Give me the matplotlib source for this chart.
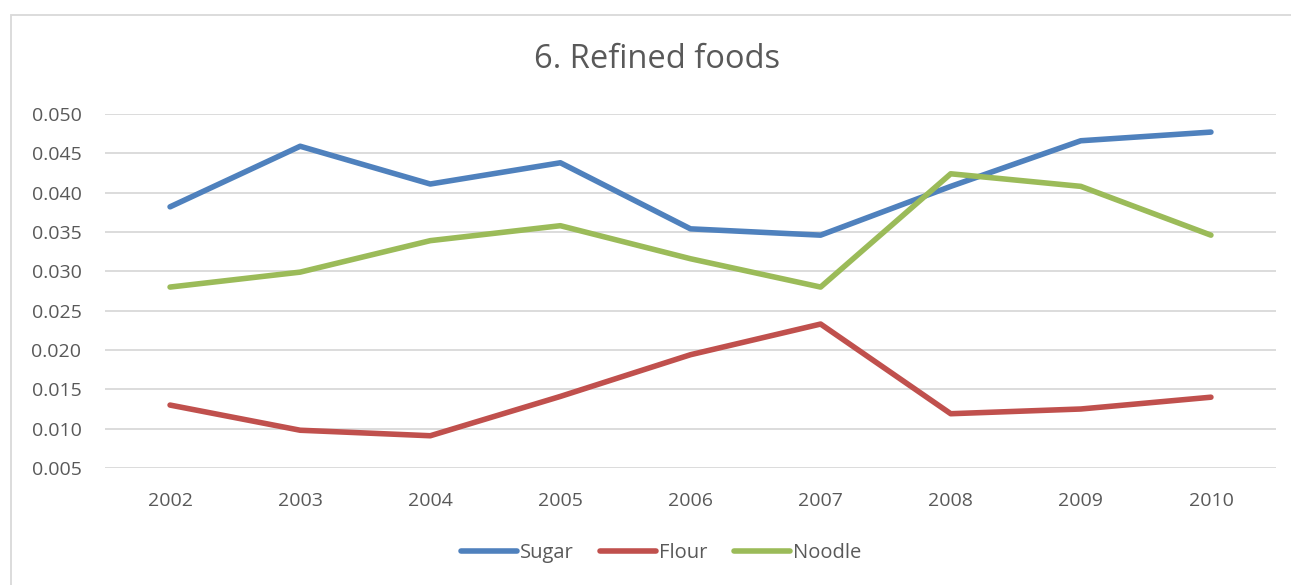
import matplotlib
matplotlib.use("Agg")
import matplotlib.pyplot as plt
from matplotlib.patches import Rectangle

years = ["2002", "2003", "2004", "2005", "2006", "2007", "2008", "2009", "2010"]
sugar = [0.0382, 0.0459, 0.0411, 0.0438, 0.0354, 0.0346, 0.0408, 0.0466, 0.0477]
flour = [0.0130, 0.0098, 0.0091, 0.0141, 0.0194, 0.0233, 0.0119, 0.0125, 0.0140]
noodle = [0.0280, 0.0299, 0.0339, 0.0358, 0.0316, 0.0280, 0.0424, 0.0408, 0.0346]
y_ticks = [0.005, 0.010, 0.015, 0.020, 0.025, 0.030, 0.035, 0.040, 0.045, 0.050]

plt.rcParams["font.family"] = ["Open Sans", "DejaVu Sans"]
text_color = "#595959"

fig = plt.figure(figsize=(12.91, 5.85), dpi=100)
W, H = 1291, 585
ax = fig.add_axes([105 / W, 1 - 468 / H, (1276 - 105) / W, (468 - 114) / H])

x = range(len(years))
ax.plot(x, sugar, color="#4F81BD", lw=4, solid_capstyle="round", label="Sugar", zorder=3)
ax.plot(x, flour, color="#C0504D", lw=4, solid_capstyle="round", label="Flour", zorder=3)
ax.plot(x, noodle, color="#9BBB59", lw=4, solid_capstyle="round", label="Noodle", zorder=3)

ax.set_xlim(-0.5, len(years) - 0.5)
ax.set_ylim(0.005, 0.050)
ax.set_yticks(y_ticks)
ax.set_yticklabels([f"{v:.3f}" for v in y_ticks])
ax.set_xticks(list(x))
ax.set_xticklabels(years)
ax.grid(axis="y", color="#D9D9D9", lw=1.3, zorder=0)
ax.set_axisbelow(True)
for s in ax.spines.values():
    s.set_visible(False)
ax.tick_params(length=0, labelsize=14, colors=text_color)
ax.tick_params(axis="y", pad=17)
ax.tick_params(axis="x", pad=17)

fig.text(657 / W, 1 - 60 / H, "6. Refined foods", ha="center", va="center",
         fontsize=23.5, color=text_color)

leg = fig.legend(loc="center", bbox_to_anchor=(661 / W, 1 - 553 / H), ncol=3,
                 frameon=False, fontsize=14.5, handlelength=2.8, handletextpad=0.15,
                 columnspacing=1.3, labelcolor=text_color)

fig.patches.append(Rectangle((11 / W, -0.1), 1.2, 1 - 15 / H + 0.1, transform=fig.transFigure,
                             fill=False, edgecolor="#D9D9D9", lw=1.3))

fig.savefig("out.png", dpi=100)
